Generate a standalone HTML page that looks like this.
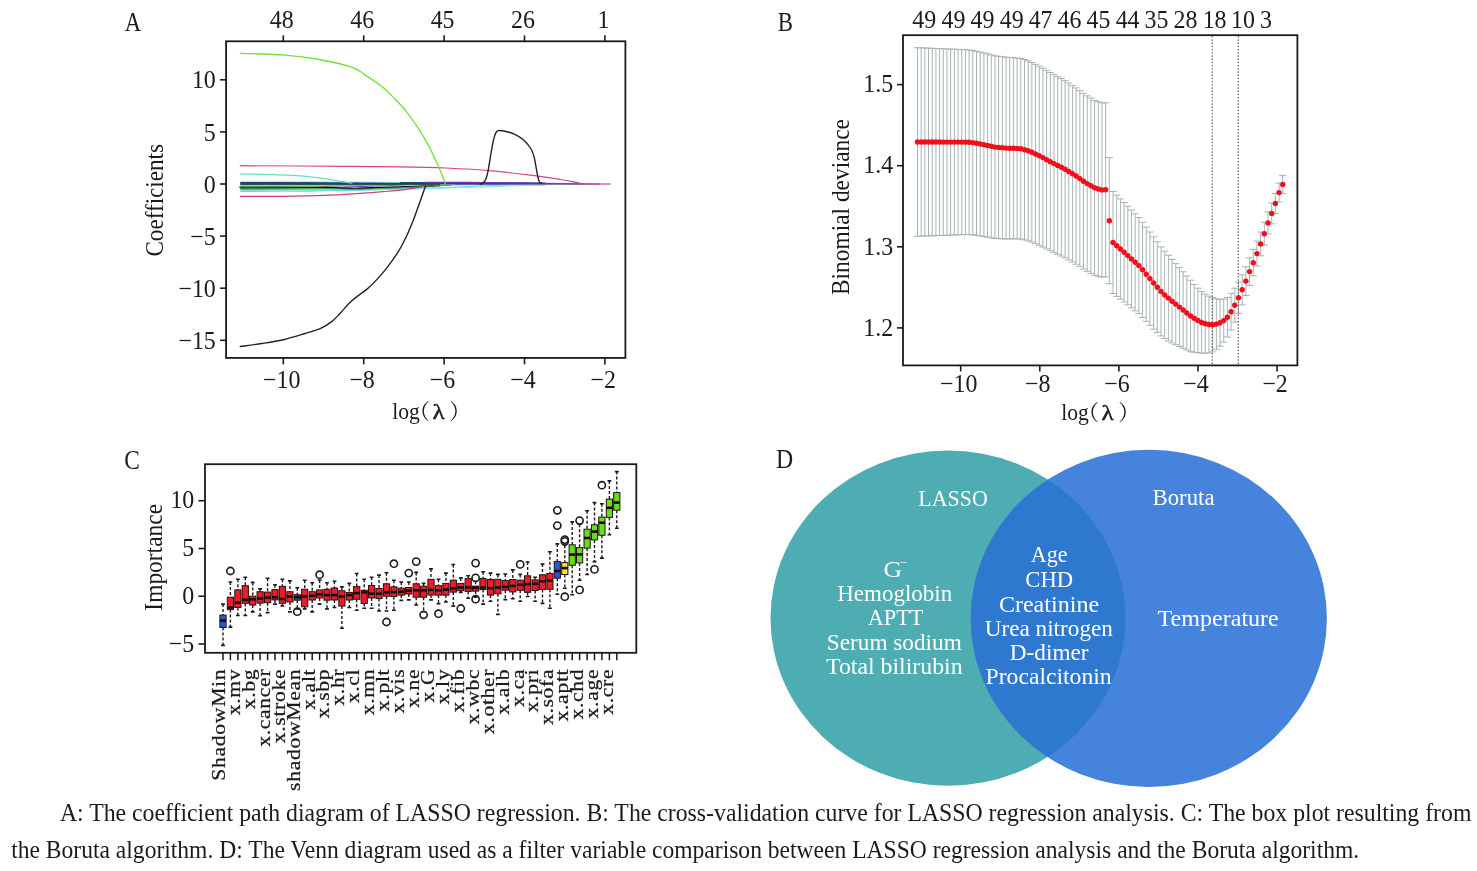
<!DOCTYPE html>
<html lang="en"><head><meta charset="utf-8"><title>Figure</title>
<style>
html,body{margin:0;padding:0;background:#fff;}
body{width:1477px;height:871px;overflow:hidden;}
svg{display:block;}
svg text{font-family:"Liberation Serif","Noto Serif CJK SC",serif;}
</style></head><body>
<svg width="1477" height="871" viewBox="0 0 1477 871">
<rect width="1477" height="871" fill="#ffffff"/>
<path d="M240.3,191.3 L257.8,191.3 L275.3,191.2 L292.7,191.1 L310.2,191.0 L327.7,190.7 L345.2,190.5 L362.7,190.1 L380.1,189.7 L397.6,189.2 L415.1,188.7 L432.6,188.1 L450.1,187.4 L467.6,186.7 L485.0,185.9 L502.5,185.0 L520.0,184.0" fill="none" stroke="#62cdea" stroke-width="1.3" stroke-linejoin="round" opacity="0.9"/>
<path d="M240.3,190.3 L260.3,190.3 L280.3,190.2 L300.2,190.1 L320.2,190.0 L340.2,189.8 L360.2,189.6 L380.2,189.3 L400.1,188.9 L420.1,188.5 L440.1,188.1 L460.1,187.5 L480.1,187.0 L500.1,186.3 L520.0,185.6 L540.0,184.8 L560.0,184.0" fill="none" stroke="#7fe8de" stroke-width="1.2" stroke-linejoin="round" opacity="0.9"/>
<path d="M240.3,189.6 L254.7,189.6 L269.0,189.5 L283.4,189.5 L297.7,189.3 L312.1,189.2 L326.4,189.0 L340.8,188.7 L355.1,188.4 L369.5,188.0 L383.9,187.6 L398.2,187.1 L412.6,186.6 L426.9,186.1 L441.3,185.4 L455.6,184.7 L470.0,184.0" fill="none" stroke="#3fb6d8" stroke-width="1.0" stroke-linejoin="round" opacity="0.9"/>
<path d="M240.3,188.8 L247.8,188.8 L255.3,188.8 L262.7,188.7 L270.2,188.6 L277.7,188.4 L285.2,188.2 L292.7,188.0 L300.1,187.8 L307.6,187.4 L315.1,187.1 L322.6,186.7 L330.1,186.3 L337.6,185.8 L345.0,185.2 L352.5,184.6 L360.0,184.0" fill="none" stroke="#a22a93" stroke-width="1.0" stroke-linejoin="round" opacity="1.0"/>
<path d="M240.3,188.3 L251.5,188.3 L262.8,188.3 L274.0,188.2 L285.2,188.1 L296.5,188.0 L307.7,187.8 L318.9,187.6 L330.1,187.4 L341.4,187.1 L352.6,186.8 L363.8,186.4 L375.1,186.0 L386.3,185.6 L397.5,185.1 L408.8,184.6 L420.0,184.0" fill="none" stroke="#6f2bb8" stroke-width="1.0" stroke-linejoin="round" opacity="1.0"/>
<path d="M240.3,187.2 C250.2,187.2 284.2,187.3 300.0,187.4 C315.8,187.5 325.8,187.7 335.0,187.9 C344.2,188.1 348.8,188.6 355.0,188.6 C361.2,188.6 364.5,188.2 372.0,188.0 C379.5,187.8 391.2,187.5 400.0,187.2 C408.8,186.9 418.3,186.6 425.0,186.3 C431.7,186.0 435.5,185.5 440.0,185.2 C444.5,184.9 450.0,184.5 452.0,184.3" fill="none" stroke="#101010" stroke-width="1.9" stroke-linejoin="round" stroke-linecap="round"/>
<path d="M240.3,186.1 L253.1,186.1 L265.9,186.1 L278.7,186.0 L291.5,186.0 L304.3,185.9 L317.1,185.9 L329.9,185.8 L342.6,185.6 L355.4,185.5 L368.2,185.4 L381.0,185.2 L393.8,185.0 L406.6,184.8 L419.4,184.5 L432.2,184.3 L445.0,184.0" fill="none" stroke="#49d23a" stroke-width="1.0" stroke-linejoin="round" opacity="1.0"/>
<path d="M240.3,188.0 C250.2,188.1 283.4,188.1 300.0,188.3 C316.6,188.5 330.0,188.8 340.0,189.0 C350.0,189.2 352.5,189.3 360.0,189.2 C367.5,189.1 375.0,188.7 385.0,188.3 C395.0,187.9 410.0,187.4 420.0,186.8 C430.0,186.2 440.8,185.1 445.0,184.8" fill="none" stroke="#3bc43b" stroke-width="0.9" stroke-linejoin="round" stroke-linecap="round"/>
<path d="M240.3,185.3 L252.2,185.3 L264.0,185.3 L275.9,185.3 L287.7,185.2 L299.6,185.2 L311.4,185.1 L323.3,185.1 L335.1,185.0 L347.0,184.9 L358.9,184.8 L370.7,184.7 L382.6,184.6 L394.4,184.5 L406.3,184.3 L418.1,184.2 L430.0,184.0" fill="none" stroke="#a9cdb0" stroke-width="0.8" stroke-linejoin="round" opacity="1.0"/>
<path d="M240.3,184.7 L255.3,184.7 L270.3,184.7 L285.2,184.7 L300.2,184.7 L315.2,184.6 L330.2,184.6 L345.2,184.6 L360.1,184.5 L375.1,184.5 L390.1,184.5 L405.1,184.4 L420.1,184.3 L435.1,184.3 L450.0,184.2 L465.0,184.1 L480.0,184.0" fill="none" stroke="#7d8f8a" stroke-width="0.8" stroke-linejoin="round" opacity="1.0"/>
<path d="M240.3,183.3 L330.0,183.3 L430.0,183.3 L500.0,183.5 L545.0,183.9" fill="none" stroke="#1c5566" stroke-width="2.6" stroke-linejoin="round" />
<path d="M240.3,182.5 L360.0,182.7 L470.0,183.0 L520.0,183.6" fill="none" stroke="#23457f" stroke-width="1.0" stroke-linejoin="round" opacity="0.9"/>
<path d="M240.3,184.2 L400.0,184.1 L520.0,184.0" fill="none" stroke="#0f3d3c" stroke-width="1.0" stroke-linejoin="round" />
<path d="M240.3,181.5 L250.3,181.5 L260.3,181.5 L270.2,181.5 L280.2,181.5 L290.2,181.6 L300.2,181.6 L310.2,181.6 L320.1,181.7 L330.1,181.8 L340.1,181.8 L350.1,181.9 L360.1,182.0 L370.1,182.1 L380.0,182.2 L390.0,182.3 L400.0,182.4" fill="none" stroke="#9be6e6" stroke-width="0.9" stroke-linejoin="round" opacity="1.0"/>
<path d="M425.0,182.6 L470.0,182.5 L520.0,183.1 L560.0,183.7 L585.0,184.0" fill="none" stroke="#7a2fc0" stroke-width="1.5" stroke-linejoin="round" opacity="0.95"/>
<path d="M440.0,185.0 L500.0,184.9 L560.0,184.3 L590.0,184.0" fill="none" stroke="#8fe3dd" stroke-width="1.0" stroke-linejoin="round" />
<path d="M455.0,184.0 L600.0,184.0" fill="none" stroke="#5b2a9a" stroke-width="1.0" stroke-linejoin="round" />
<path d="M240.3,173.8 C248.9,174.1 278.6,174.7 291.8,175.4 C305.0,176.1 310.9,176.9 319.3,177.9 C327.7,178.9 336.9,180.7 342.3,181.6 C347.8,182.5 350.4,182.9 352.0,183.2" fill="none" stroke="#63e3b5" stroke-width="1.2" stroke-linejoin="round" stroke-linecap="round"/>
<path d="M240.3,165.7 C250.2,165.8 273.4,165.8 300.0,166.0 C326.6,166.2 375.7,166.6 400.0,166.9 C424.3,167.2 430.6,167.3 445.9,168.0 C461.2,168.7 476.5,169.5 491.8,170.8 C507.1,172.2 526.2,174.7 537.7,176.1 C549.2,177.5 554.3,178.4 560.7,179.5 C567.1,180.6 572.4,181.7 576.0,182.4 C579.6,183.2 581.4,183.7 582.5,184.0" fill="none" stroke="#d8408f" stroke-width="1.2" stroke-linejoin="round" stroke-linecap="round"/>
<path d="M582.5,184.0 L610.5,184.0" fill="none" stroke="#d8408f" stroke-width="1.2" stroke-linejoin="round" />
<path d="M240.3,196.3 C247.1,196.3 264.9,196.5 281.0,196.3 C297.1,196.1 323.8,195.4 337.0,194.9 C350.2,194.4 352.3,193.8 360.0,193.3 C367.7,192.8 375.3,192.3 383.0,191.7 C390.7,191.0 399.8,190.2 406.0,189.4 C412.2,188.7 416.5,187.9 420.0,187.2 C423.5,186.5 425.8,185.7 427.0,185.4" fill="none" stroke="#cf3f86" stroke-width="1.2" stroke-linejoin="round" stroke-linecap="round"/>
<path d="M240.3,53.3 C247.7,53.6 271.7,54.1 284.9,55.1 C298.1,56.1 308.2,57.5 319.3,59.5 C330.4,61.5 343.8,64.5 351.5,67.1 C359.2,69.7 360.1,71.8 365.3,75.1 C370.5,78.4 377.5,83.0 382.5,87.0 C387.5,91.0 391.1,95.1 395.1,99.2 C399.1,103.3 402.8,107.0 406.6,111.8 C410.4,116.6 414.2,122.0 418.0,127.9 C421.8,133.8 426.1,140.9 429.5,147.4 C432.9,153.9 436.2,161.4 438.7,166.9 C441.2,172.4 443.3,177.8 444.4,180.7 C445.5,183.5 445.1,183.4 445.2,184.0" fill="none" stroke="#70e03a" stroke-width="1.3" stroke-linejoin="round" stroke-linecap="round"/>
<path d="M240.3,346.5 C243.9,346.0 254.7,344.6 261.9,343.5 C269.1,342.4 276.2,341.4 283.4,339.7 C290.6,338.0 298.7,335.4 305.0,333.5 C311.3,331.6 316.7,330.1 321.2,328.1 C325.7,326.1 328.9,323.8 332.0,321.4 C335.1,318.9 337.1,316.4 340.0,313.4 C342.9,310.4 346.4,306.1 349.2,303.3 C351.9,300.6 353.4,299.3 356.5,296.9 C359.6,294.4 363.9,291.8 367.6,288.6 C371.3,285.4 375.2,281.3 378.6,277.6 C382.0,273.9 384.7,270.6 387.8,266.6 C390.9,262.6 394.2,258.0 397.0,253.7 C399.8,249.4 401.9,245.7 404.3,240.8 C406.8,235.9 409.6,229.5 411.7,224.3 C413.8,219.1 415.5,214.2 417.2,209.6 C418.9,205.0 420.4,200.7 421.8,196.7 C423.2,192.7 425.0,187.6 425.6,185.8" fill="none" stroke="#222" stroke-width="1.4" stroke-linejoin="round" stroke-linecap="round"/>
<path d="M480.0,184.0 C480.4,183.9 481.6,184.3 482.6,183.4 C483.6,182.5 485.1,180.8 486.1,178.4 C487.1,176.0 487.4,174.2 488.4,169.2 C489.3,164.2 490.8,154.1 491.8,148.5 C492.8,142.9 493.5,138.9 494.6,135.9 C495.7,132.9 496.0,131.2 498.2,130.6 C500.4,129.9 505.1,131.4 507.9,132.0 C510.7,132.6 512.3,133.1 514.8,134.3 C517.3,135.5 520.1,136.9 522.8,139.3 C525.5,141.7 528.9,145.4 530.8,148.5 C532.7,151.6 533.1,153.1 534.3,157.7 C535.4,162.3 536.8,172.0 537.7,176.1 C538.6,180.2 538.8,180.8 539.5,182.0 C540.2,183.2 541.4,183.3 541.8,183.6" fill="none" stroke="#222" stroke-width="1.4" stroke-linejoin="round" stroke-linecap="round"/>
<rect x="226.1" y="41.3" width="399.3" height="316.6" fill="none" stroke="#1a1a1a" stroke-width="1.8"/>
<line x1="283.3" y1="357.9" x2="283.3" y2="364.4" stroke="#1a1a1a" stroke-width="1.6"/>
<line x1="283.3" y1="41.3" x2="283.3" y2="35.3" stroke="#1a1a1a" stroke-width="1.6"/>
<text transform="translate(281.7,387.8) scale(0.935,1)" font-size="25.6" text-anchor="middle" fill="#1d1a1b">−10</text>
<line x1="363.7" y1="357.9" x2="363.7" y2="364.4" stroke="#1a1a1a" stroke-width="1.6"/>
<line x1="363.7" y1="41.3" x2="363.7" y2="35.3" stroke="#1a1a1a" stroke-width="1.6"/>
<text transform="translate(362.1,387.8) scale(0.935,1)" font-size="25.6" text-anchor="middle" fill="#1d1a1b">−8</text>
<line x1="444.1" y1="357.9" x2="444.1" y2="364.4" stroke="#1a1a1a" stroke-width="1.6"/>
<line x1="444.1" y1="41.3" x2="444.1" y2="35.3" stroke="#1a1a1a" stroke-width="1.6"/>
<text transform="translate(442.5,387.8) scale(0.935,1)" font-size="25.6" text-anchor="middle" fill="#1d1a1b">−6</text>
<line x1="524.5" y1="357.9" x2="524.5" y2="364.4" stroke="#1a1a1a" stroke-width="1.6"/>
<line x1="524.5" y1="41.3" x2="524.5" y2="35.3" stroke="#1a1a1a" stroke-width="1.6"/>
<text transform="translate(522.9,387.8) scale(0.935,1)" font-size="25.6" text-anchor="middle" fill="#1d1a1b">−4</text>
<line x1="604.9" y1="357.9" x2="604.9" y2="364.4" stroke="#1a1a1a" stroke-width="1.6"/>
<line x1="604.9" y1="41.3" x2="604.9" y2="35.3" stroke="#1a1a1a" stroke-width="1.6"/>
<text transform="translate(603.3,387.8) scale(0.935,1)" font-size="25.6" text-anchor="middle" fill="#1d1a1b">−2</text>
<text transform="translate(281.8,27.6) scale(0.935,1)" font-size="25.6" text-anchor="middle" fill="#1d1a1b">48</text>
<text transform="translate(362.2,27.6) scale(0.935,1)" font-size="25.6" text-anchor="middle" fill="#1d1a1b">46</text>
<text transform="translate(442.6,27.6) scale(0.935,1)" font-size="25.6" text-anchor="middle" fill="#1d1a1b">45</text>
<text transform="translate(523.0,27.6) scale(0.935,1)" font-size="25.6" text-anchor="middle" fill="#1d1a1b">26</text>
<text transform="translate(603.4,27.6) scale(0.935,1)" font-size="25.6" text-anchor="middle" fill="#1d1a1b">1</text>
<line x1="226.1" y1="79.8" x2="220.1" y2="79.8" stroke="#1a1a1a" stroke-width="1.6"/>
<text transform="translate(215.8,88.4) scale(0.935,1)" font-size="25.6" text-anchor="end" fill="#1d1a1b">10</text>
<line x1="226.1" y1="131.9" x2="220.1" y2="131.9" stroke="#1a1a1a" stroke-width="1.6"/>
<text transform="translate(215.8,140.5) scale(0.935,1)" font-size="25.6" text-anchor="end" fill="#1d1a1b">5</text>
<line x1="226.1" y1="184.0" x2="220.1" y2="184.0" stroke="#1a1a1a" stroke-width="1.6"/>
<text transform="translate(215.8,192.6) scale(0.935,1)" font-size="25.6" text-anchor="end" fill="#1d1a1b">0</text>
<line x1="226.1" y1="236.1" x2="220.1" y2="236.1" stroke="#1a1a1a" stroke-width="1.6"/>
<text transform="translate(215.8,244.7) scale(0.935,1)" font-size="25.6" text-anchor="end" fill="#1d1a1b">−5</text>
<line x1="226.1" y1="288.2" x2="220.1" y2="288.2" stroke="#1a1a1a" stroke-width="1.6"/>
<text transform="translate(215.8,296.8) scale(0.935,1)" font-size="25.6" text-anchor="end" fill="#1d1a1b">−10</text>
<line x1="226.1" y1="340.3" x2="220.1" y2="340.3" stroke="#1a1a1a" stroke-width="1.6"/>
<text transform="translate(215.8,348.9) scale(0.935,1)" font-size="25.6" text-anchor="end" fill="#1d1a1b">−15</text>
<text transform="translate(162.8,200.3) rotate(-90)" font-size="24.3" text-anchor="middle" fill="#1d1a1b" textLength="112.6" lengthAdjust="spacingAndGlyphs">Coefficients</text>
<text x="392.3" y="418.9" font-size="23.8" fill="#1d1a1b" textLength="27.6" lengthAdjust="spacingAndGlyphs">log</text>
<text x="408.5" y="418.5" font-size="21.5" fill="#1d1a1b">（</text>
<text x="432.5" y="418.9" font-size="22" fill="#1d1a1b" stroke="#1d1a1b" stroke-width="0.45" textLength="12.2" lengthAdjust="spacingAndGlyphs">λ</text>
<text x="449.3" y="418.5" font-size="21.5" fill="#1d1a1b">）</text>
<text x="124.7" y="31.1" font-size="27.5" text-anchor="start" fill="#1d1a1b" textLength="16.4" lengthAdjust="spacingAndGlyphs">A</text>
<path d="M917.46,47.7V236.3M913.86,47.7h7.2M913.86,236.3h7.2M921.15,47.8V236.2M917.55,47.8h7.2M917.55,236.2h7.2M924.84,48.0V236.0M921.24,48.0h7.2M921.24,236.0h7.2M928.53,48.2V235.9M924.93,48.2h7.2M924.93,235.9h7.2M932.22,48.3V235.8M928.62,48.3h7.2M928.62,235.8h7.2M935.91,48.5V235.6M932.31,48.5h7.2M932.31,235.6h7.2M939.60,48.6V235.5M936.00,48.6h7.2M936.00,235.5h7.2M943.29,48.8V235.4M939.69,48.8h7.2M939.69,235.4h7.2M946.98,48.9V235.2M943.38,48.9h7.2M943.38,235.2h7.2M950.67,49.1V235.1M947.07,49.1h7.2M947.07,235.1h7.2M954.36,49.2V234.9M950.76,49.2h7.2M950.76,234.9h7.2M958.05,49.4V234.8M954.45,49.4h7.2M954.45,234.8h7.2M961.74,49.5V234.7M958.14,49.5h7.2M958.14,234.7h7.2M965.43,49.7V234.6M961.83,49.7h7.2M961.83,234.6h7.2M969.12,50.0V234.6M965.52,50.0h7.2M965.52,234.6h7.2M972.81,50.5V234.8M969.21,50.5h7.2M969.21,234.8h7.2M976.50,51.3V235.3M972.90,51.3h7.2M972.90,235.3h7.2M980.19,52.1V235.9M976.59,52.1h7.2M976.59,235.9h7.2M983.88,53.0V236.4M980.28,53.0h7.2M980.28,236.4h7.2M987.57,53.9V237.1M983.97,53.9h7.2M983.97,237.1h7.2M991.26,54.9V237.8M987.66,54.9h7.2M987.66,237.8h7.2M994.95,55.8V238.3M991.35,55.8h7.2M991.35,238.3h7.2M998.64,56.3V238.6M995.04,56.3h7.2M995.04,238.6h7.2M1002.33,56.7V238.8M998.73,56.7h7.2M998.73,238.8h7.2M1006.02,57.2V239.0M1002.42,57.2h7.2M1002.42,239.0h7.2M1009.71,57.5V238.9M1006.11,57.5h7.2M1006.11,238.9h7.2M1013.40,57.7V238.9M1009.80,57.7h7.2M1009.80,238.9h7.2M1017.09,58.0V238.9M1013.49,58.0h7.2M1013.49,238.9h7.2M1020.78,58.5V239.1M1017.18,58.5h7.2M1017.18,239.1h7.2M1024.47,59.6V239.9M1020.87,59.6h7.2M1020.87,239.9h7.2M1028.16,60.8V240.8M1024.56,60.8h7.2M1024.56,240.8h7.2M1031.85,62.5V242.2M1028.25,62.5h7.2M1028.25,242.2h7.2M1035.54,64.3V243.8M1031.94,64.3h7.2M1031.94,243.8h7.2M1039.23,66.1V245.3M1035.63,66.1h7.2M1035.63,245.3h7.2M1042.92,68.2V247.1M1039.32,68.2h7.2M1039.32,247.1h7.2M1046.61,70.4V248.9M1043.01,70.4h7.2M1043.01,248.9h7.2M1050.30,72.5V250.8M1046.70,72.5h7.2M1046.70,250.8h7.2M1053.99,74.6V252.6M1050.39,74.6h7.2M1050.39,252.6h7.2M1057.68,76.6V254.3M1054.08,76.6h7.2M1054.08,254.3h7.2M1061.37,78.5V256.0M1057.77,78.5h7.2M1057.77,256.0h7.2M1065.06,80.7V257.8M1061.46,80.7h7.2M1061.46,257.8h7.2M1068.75,83.0V259.9M1065.15,83.0h7.2M1065.15,259.9h7.2M1072.44,85.4V262.0M1068.84,85.4h7.2M1068.84,262.0h7.2M1076.13,87.9V264.2M1072.53,87.9h7.2M1072.53,264.2h7.2M1079.82,90.6V266.6M1076.22,90.6h7.2M1076.22,266.6h7.2M1083.51,93.3V269.0M1079.91,93.3h7.2M1079.91,269.0h7.2M1087.20,95.9V271.3M1083.60,95.9h7.2M1083.60,271.3h7.2M1090.89,98.1V273.3M1087.29,98.1h7.2M1087.29,273.3h7.2M1094.58,100.4V275.3M1090.98,100.4h7.2M1090.98,275.3h7.2M1098.27,101.7V276.3M1094.67,101.7h7.2M1094.67,276.3h7.2M1101.96,102.8V277.1M1098.36,102.8h7.2M1098.36,277.1h7.2M1105.65,102.8V276.8M1102.05,102.8h7.2M1102.05,276.8h7.2M1109.34,157.7V283.7M1105.74,157.7h7.2M1105.74,283.7h7.2M1113.03,191.5V293.5M1109.43,191.5h7.2M1109.43,293.5h7.2M1116.72,195.2V296.4M1113.12,195.2h7.2M1113.12,296.4h7.2M1120.41,198.9V299.2M1116.81,198.9h7.2M1116.81,299.2h7.2M1124.10,202.5V302.0M1120.50,202.5h7.2M1120.50,302.0h7.2M1127.79,206.3V304.9M1124.19,206.3h7.2M1124.19,304.9h7.2M1131.48,210.0V307.9M1127.88,210.0h7.2M1127.88,307.9h7.2M1135.17,213.8V310.8M1131.57,213.8h7.2M1131.57,310.8h7.2M1138.86,217.5V313.7M1135.26,217.5h7.2M1135.26,313.7h7.2M1142.55,222.2V317.4M1138.95,222.2h7.2M1138.95,317.4h7.2M1146.24,227.1V321.3M1142.64,227.1h7.2M1142.64,321.3h7.2M1149.93,232.0V325.2M1146.33,232.0h7.2M1146.33,325.2h7.2M1153.62,236.9V329.2M1150.02,236.9h7.2M1150.02,329.2h7.2M1157.31,241.8V332.6M1153.71,241.8h7.2M1153.71,332.6h7.2M1161.00,246.9V335.9M1157.40,246.9h7.2M1157.40,335.9h7.2M1164.69,251.2V338.5M1161.09,251.2h7.2M1161.09,338.5h7.2M1168.38,255.3V340.9M1164.78,255.3h7.2M1164.78,340.9h7.2M1172.07,259.5V342.9M1168.47,259.5h7.2M1168.47,342.9h7.2M1175.76,263.6V344.7M1172.16,263.6h7.2M1172.16,344.7h7.2M1179.45,267.7V346.5M1175.85,267.7h7.2M1175.85,346.5h7.2M1183.14,271.8V348.2M1179.54,271.8h7.2M1179.54,348.2h7.2M1186.83,276.0V350.0M1183.23,276.0h7.2M1183.23,350.0h7.2M1190.52,280.2V351.7M1186.92,280.2h7.2M1186.92,351.7h7.2M1194.21,284.4V352.3M1190.61,284.4h7.2M1190.61,352.3h7.2M1197.90,288.2V352.6M1194.30,288.2h7.2M1194.30,352.6h7.2M1201.59,291.6V353.1M1197.99,291.6h7.2M1197.99,353.1h7.2M1205.28,294.1V353.3M1201.68,294.1h7.2M1201.68,353.3h7.2M1208.97,296.1V352.9M1205.37,296.1h7.2M1205.37,352.9h7.2M1212.66,297.6V351.9M1209.06,297.6h7.2M1209.06,351.9h7.2M1216.35,298.8V349.4M1212.75,298.8h7.2M1212.75,349.4h7.2M1220.04,299.4V346.2M1216.44,299.4h7.2M1216.44,346.2h7.2M1223.73,299.1V342.1M1220.13,299.1h7.2M1220.13,342.1h7.2M1227.42,297.5V337.0M1223.82,297.5h7.2M1223.82,337.0h7.2M1231.11,293.3V330.0M1227.51,293.3h7.2M1227.51,330.0h7.2M1234.80,288.2V322.2M1231.20,288.2h7.2M1231.20,322.2h7.2M1238.49,282.1V313.5M1234.89,282.1h7.2M1234.89,313.5h7.2M1242.18,274.8V304.9M1238.58,274.8h7.2M1238.58,304.9h7.2M1245.87,266.7V295.5M1242.27,266.7h7.2M1242.27,295.5h7.2M1249.56,257.8V285.4M1245.96,257.8h7.2M1245.96,285.4h7.2M1253.25,249.5V275.8M1249.65,249.5h7.2M1249.65,275.8h7.2M1256.94,241.1V266.1M1253.34,241.1h7.2M1253.34,266.1h7.2M1260.63,232.0V255.8M1257.03,232.0h7.2M1257.03,255.8h7.2M1264.32,222.3V245.1M1260.72,222.3h7.2M1260.72,245.1h7.2M1268.01,211.9V233.8M1264.41,211.9h7.2M1264.41,233.8h7.2M1271.70,203.0V223.8M1268.10,203.0h7.2M1268.10,223.8h7.2M1275.39,193.5V213.4M1271.79,193.5h7.2M1271.79,213.4h7.2M1279.08,183.1V202.0M1275.48,183.1h7.2M1275.48,202.0h7.2M1282.77,175.4V193.4M1279.17,175.4h7.2M1279.17,193.4h7.2" fill="none" stroke="#a8b2b6" stroke-width="1.0"/>
<line x1="1212.2" y1="36.2" x2="1212.2" y2="364.4" stroke="#555" stroke-width="1.2" stroke-dasharray="1.3 1.9"/>
<line x1="1238.3" y1="36.2" x2="1238.3" y2="364.4" stroke="#555" stroke-width="1.2" stroke-dasharray="1.3 1.9"/>
<g fill="#f00f1a"><circle cx="917.46" cy="142.0" r="2.7"/><circle cx="921.15" cy="142.0" r="2.7"/><circle cx="924.84" cy="142.0" r="2.7"/><circle cx="928.53" cy="142.0" r="2.7"/><circle cx="932.22" cy="142.0" r="2.7"/><circle cx="935.91" cy="142.0" r="2.7"/><circle cx="939.60" cy="142.0" r="2.7"/><circle cx="943.29" cy="142.1" r="2.7"/><circle cx="946.98" cy="142.1" r="2.7"/><circle cx="950.67" cy="142.1" r="2.7"/><circle cx="954.36" cy="142.1" r="2.7"/><circle cx="958.05" cy="142.1" r="2.7"/><circle cx="961.74" cy="142.1" r="2.7"/><circle cx="965.43" cy="142.1" r="2.7"/><circle cx="969.12" cy="142.3" r="2.7"/><circle cx="972.81" cy="142.6" r="2.7"/><circle cx="976.50" cy="143.3" r="2.7"/><circle cx="980.19" cy="144.0" r="2.7"/><circle cx="983.88" cy="144.7" r="2.7"/><circle cx="987.57" cy="145.5" r="2.7"/><circle cx="991.26" cy="146.3" r="2.7"/><circle cx="994.95" cy="147.1" r="2.7"/><circle cx="998.64" cy="147.4" r="2.7"/><circle cx="1002.33" cy="147.8" r="2.7"/><circle cx="1006.02" cy="148.1" r="2.7"/><circle cx="1009.71" cy="148.2" r="2.7"/><circle cx="1013.40" cy="148.3" r="2.7"/><circle cx="1017.09" cy="148.4" r="2.7"/><circle cx="1020.78" cy="148.8" r="2.7"/><circle cx="1024.47" cy="149.8" r="2.7"/><circle cx="1028.16" cy="150.8" r="2.7"/><circle cx="1031.85" cy="152.3" r="2.7"/><circle cx="1035.54" cy="154.0" r="2.7"/><circle cx="1039.23" cy="155.7" r="2.7"/><circle cx="1042.92" cy="157.6" r="2.7"/><circle cx="1046.61" cy="159.7" r="2.7"/><circle cx="1050.30" cy="161.7" r="2.7"/><circle cx="1053.99" cy="163.6" r="2.7"/><circle cx="1057.68" cy="165.4" r="2.7"/><circle cx="1061.37" cy="167.2" r="2.7"/><circle cx="1065.06" cy="169.3" r="2.7"/><circle cx="1068.75" cy="171.5" r="2.7"/><circle cx="1072.44" cy="173.7" r="2.7"/><circle cx="1076.13" cy="176.0" r="2.7"/><circle cx="1079.82" cy="178.6" r="2.7"/><circle cx="1083.51" cy="181.2" r="2.7"/><circle cx="1087.20" cy="183.6" r="2.7"/><circle cx="1090.89" cy="185.7" r="2.7"/><circle cx="1094.58" cy="187.8" r="2.7"/><circle cx="1098.27" cy="189.0" r="2.7"/><circle cx="1101.96" cy="189.9" r="2.7"/><circle cx="1105.65" cy="189.8" r="2.7"/><circle cx="1109.34" cy="220.7" r="2.7"/><circle cx="1113.03" cy="242.5" r="2.7"/><circle cx="1116.72" cy="245.8" r="2.7"/><circle cx="1120.41" cy="249.0" r="2.7"/><circle cx="1124.10" cy="252.3" r="2.7"/><circle cx="1127.79" cy="255.6" r="2.7"/><circle cx="1131.48" cy="259.0" r="2.7"/><circle cx="1135.17" cy="262.3" r="2.7"/><circle cx="1138.86" cy="265.6" r="2.7"/><circle cx="1142.55" cy="269.8" r="2.7"/><circle cx="1146.24" cy="274.2" r="2.7"/><circle cx="1149.93" cy="278.6" r="2.7"/><circle cx="1153.62" cy="283.0" r="2.7"/><circle cx="1157.31" cy="287.2" r="2.7"/><circle cx="1161.00" cy="291.4" r="2.7"/><circle cx="1164.69" cy="294.9" r="2.7"/><circle cx="1168.38" cy="298.1" r="2.7"/><circle cx="1172.07" cy="301.2" r="2.7"/><circle cx="1175.76" cy="304.1" r="2.7"/><circle cx="1179.45" cy="307.1" r="2.7"/><circle cx="1183.14" cy="310.0" r="2.7"/><circle cx="1186.83" cy="313.0" r="2.7"/><circle cx="1190.52" cy="315.9" r="2.7"/><circle cx="1194.21" cy="318.3" r="2.7"/><circle cx="1197.90" cy="320.4" r="2.7"/><circle cx="1201.59" cy="322.4" r="2.7"/><circle cx="1205.28" cy="323.7" r="2.7"/><circle cx="1208.97" cy="324.5" r="2.7"/><circle cx="1212.66" cy="324.7" r="2.7"/><circle cx="1216.35" cy="324.1" r="2.7"/><circle cx="1220.04" cy="322.8" r="2.7"/><circle cx="1223.73" cy="320.6" r="2.7"/><circle cx="1227.42" cy="317.2" r="2.7"/><circle cx="1231.11" cy="311.7" r="2.7"/><circle cx="1234.80" cy="305.2" r="2.7"/><circle cx="1238.49" cy="297.8" r="2.7"/><circle cx="1242.18" cy="289.8" r="2.7"/><circle cx="1245.87" cy="281.1" r="2.7"/><circle cx="1249.56" cy="271.6" r="2.7"/><circle cx="1253.25" cy="262.7" r="2.7"/><circle cx="1256.94" cy="253.6" r="2.7"/><circle cx="1260.63" cy="243.9" r="2.7"/><circle cx="1264.32" cy="233.7" r="2.7"/><circle cx="1268.01" cy="222.9" r="2.7"/><circle cx="1271.70" cy="213.4" r="2.7"/><circle cx="1275.39" cy="203.4" r="2.7"/><circle cx="1279.08" cy="192.6" r="2.7"/><circle cx="1282.77" cy="184.4" r="2.7"/></g>
<rect x="903.0" y="35.2" width="394.4" height="330.2" fill="none" stroke="#1a1a1a" stroke-width="1.8"/>
<line x1="960.7" y1="365.4" x2="960.7" y2="371.4" stroke="#1a1a1a" stroke-width="1.6"/>
<text transform="translate(958.7,391.7) scale(0.935,1)" font-size="25.6" text-anchor="middle" fill="#1d1a1b">−10</text>
<line x1="1039.8" y1="365.4" x2="1039.8" y2="371.4" stroke="#1a1a1a" stroke-width="1.6"/>
<text transform="translate(1037.8,391.7) scale(0.935,1)" font-size="25.6" text-anchor="middle" fill="#1d1a1b">−8</text>
<line x1="1118.9" y1="365.4" x2="1118.9" y2="371.4" stroke="#1a1a1a" stroke-width="1.6"/>
<text transform="translate(1116.9,391.7) scale(0.935,1)" font-size="25.6" text-anchor="middle" fill="#1d1a1b">−6</text>
<line x1="1198.0" y1="365.4" x2="1198.0" y2="371.4" stroke="#1a1a1a" stroke-width="1.6"/>
<text transform="translate(1196.0,391.7) scale(0.935,1)" font-size="25.6" text-anchor="middle" fill="#1d1a1b">−4</text>
<line x1="1277.1" y1="365.4" x2="1277.1" y2="371.4" stroke="#1a1a1a" stroke-width="1.6"/>
<text transform="translate(1275.1,391.7) scale(0.935,1)" font-size="25.6" text-anchor="middle" fill="#1d1a1b">−2</text>
<line x1="903.0" y1="84.6" x2="897.0" y2="84.6" stroke="#1a1a1a" stroke-width="1.6"/>
<text transform="translate(893.2,92.3) scale(0.935,1)" font-size="25.6" text-anchor="end" fill="#1d1a1b">1.5</text>
<line x1="903.0" y1="165.7" x2="897.0" y2="165.7" stroke="#1a1a1a" stroke-width="1.6"/>
<text transform="translate(893.2,173.4) scale(0.935,1)" font-size="25.6" text-anchor="end" fill="#1d1a1b">1.4</text>
<line x1="903.0" y1="246.8" x2="897.0" y2="246.8" stroke="#1a1a1a" stroke-width="1.6"/>
<text transform="translate(893.2,254.5) scale(0.935,1)" font-size="25.6" text-anchor="end" fill="#1d1a1b">1.3</text>
<line x1="903.0" y1="327.9" x2="897.0" y2="327.9" stroke="#1a1a1a" stroke-width="1.6"/>
<text transform="translate(893.2,335.6) scale(0.935,1)" font-size="25.6" text-anchor="end" fill="#1d1a1b">1.2</text>
<text transform="translate(924.2,28.0) scale(0.935,1)" font-size="25.6" text-anchor="middle" fill="#1d1a1b">49</text>
<text transform="translate(953.4,28.0) scale(0.935,1)" font-size="25.6" text-anchor="middle" fill="#1d1a1b">49</text>
<text transform="translate(982.4,28.0) scale(0.935,1)" font-size="25.6" text-anchor="middle" fill="#1d1a1b">49</text>
<text transform="translate(1011.7,28.0) scale(0.935,1)" font-size="25.6" text-anchor="middle" fill="#1d1a1b">49</text>
<text transform="translate(1040.6,28.0) scale(0.935,1)" font-size="25.6" text-anchor="middle" fill="#1d1a1b">47</text>
<text transform="translate(1069.5,28.0) scale(0.935,1)" font-size="25.6" text-anchor="middle" fill="#1d1a1b">46</text>
<text transform="translate(1098.5,28.0) scale(0.935,1)" font-size="25.6" text-anchor="middle" fill="#1d1a1b">45</text>
<text transform="translate(1127.6,28.0) scale(0.935,1)" font-size="25.6" text-anchor="middle" fill="#1d1a1b">44</text>
<text transform="translate(1156.4,28.0) scale(0.935,1)" font-size="25.6" text-anchor="middle" fill="#1d1a1b">35</text>
<text transform="translate(1185.4,28.0) scale(0.935,1)" font-size="25.6" text-anchor="middle" fill="#1d1a1b">28</text>
<text transform="translate(1214.6,28.0) scale(0.935,1)" font-size="25.6" text-anchor="middle" fill="#1d1a1b">18</text>
<text transform="translate(1243.0,28.0) scale(0.935,1)" font-size="25.6" text-anchor="middle" fill="#1d1a1b">10</text>
<text transform="translate(1266.0,28.0) scale(0.935,1)" font-size="25.6" text-anchor="middle" fill="#1d1a1b">3</text>
<text transform="translate(848.9,207.0) rotate(-90)" font-size="24.3" text-anchor="middle" fill="#1d1a1b" textLength="176" lengthAdjust="spacingAndGlyphs">Binomial deviance</text>
<text x="1061.2" y="420.0" font-size="23.8" fill="#1d1a1b" textLength="27.6" lengthAdjust="spacingAndGlyphs">log</text>
<text x="1077.4" y="419.6" font-size="21.5" fill="#1d1a1b">（</text>
<text x="1101.4" y="420.0" font-size="22" fill="#1d1a1b" stroke="#1d1a1b" stroke-width="0.45" textLength="12.2" lengthAdjust="spacingAndGlyphs">λ</text>
<text x="1118.2" y="419.6" font-size="21.5" fill="#1d1a1b">）</text>
<text x="777.8" y="30.9" font-size="27.5" text-anchor="start" fill="#1d1a1b" textLength="15.2" lengthAdjust="spacingAndGlyphs">B</text>
<path d="M223.0,604.1V615.1M223.0,627.5V645.4M230.4,582.0V597.2M230.4,609.6V627.1M237.9,579.3V589.9M237.9,607.5V615.5M245.3,577.2V585.7M245.3,603.4V615.5M252.7,582.4V596.2M252.7,605.0V611.9M260.1,588.9V591.7M260.1,603.1V615.8M267.6,578.3V592.1M267.6,602.7V612.6M275.0,584.8V589.6M275.0,599.9V604.1M282.4,579.3V586.4M282.4,603.4V605.9M289.9,580.9V591.7M289.9,602.0V611.9M297.3,587.8V594.7M297.3,600.2V608.9M304.7,580.2V589.3M304.7,606.8V608.9M312.2,582.7V591.7M312.2,599.9V611.9M319.6,580.0V589.9M319.6,597.9V604.1M327.0,582.7V589.3M327.0,600.2V608.9M334.4,581.3V588.0M334.4,599.9V607.5M341.9,586.9V590.7M341.9,606.1V628.2M349.3,583.4V592.4M349.3,599.9V607.5M356.7,573.5V586.6M356.7,599.3V610.3M364.2,579.3V590.3M364.2,603.4V608.2M371.6,577.2V585.5M371.6,597.9V608.2M379.0,575.1V588.5M379.0,598.6V611.0M386.5,572.8V583.8M386.5,596.2V611.0M393.9,580.2V586.9M393.9,596.5V610.3M401.3,582.0V588.2M401.3,595.1V600.4M408.8,582.0V587.5M408.8,594.0V599.9M416.2,572.4V583.8M416.2,597.2V605.0M423.6,583.4V586.2M423.6,597.2V611.7M431.0,568.9V579.3M431.0,595.1V599.9M438.5,579.3V585.7M438.5,595.1V603.7M445.9,573.1V583.4M445.9,595.1V602.0M453.3,564.5V580.2M453.3,592.1V606.1M460.8,577.9V583.4M460.8,590.7V592.4M468.2,575.8V578.6M468.2,591.4V598.3M475.6,581.3V586.1M475.6,591.1V597.2M483.1,571.7V578.6M483.1,589.6V604.1M490.5,573.1V579.5M490.5,595.1V601.3M497.9,574.4V579.3M497.9,593.7V614.4M505.3,574.0V580.6M505.3,590.3V599.6M512.8,569.9V579.5M512.8,591.9V598.8M520.2,574.4V580.2M520.2,590.3V601.3M527.6,562.0V575.8M527.6,592.3V596.5M535.1,577.2V579.9M535.1,590.6V601.3M542.5,564.1V574.8M542.5,589.6V603.4M549.9,551.7V573.5M549.9,589.3V608.2M557.3,543.9V561.6M557.3,578.2V594.3M564.8,545.2V562.6M564.8,574.5V588.2M572.2,521.9V544.8M572.2,565.3V594.8M579.6,524.3V547.6M579.6,562.9V580.3M587.1,510.7V529.2M587.1,548.1V574.5M594.5,502.6V524.8M594.5,539.9V561.6M601.9,503.7V517.1M601.9,535.3V558.1M609.4,480.9V499.1M609.4,517.4V534.8M616.8,471.6V492.6M616.8,510.2V528.3" stroke="#1a1a1a" stroke-width="1.4" stroke-dasharray="3 2" fill="none"/>
<path d="M221.1,604.1h3.8M221.1,645.4h3.8M228.5,582.0h3.8M228.5,627.1h3.8M236.0,579.3h3.8M236.0,615.5h3.8M243.4,577.2h3.8M243.4,615.5h3.8M250.8,582.4h3.8M250.8,611.9h3.8M258.2,588.9h3.8M258.2,615.8h3.8M265.7,578.3h3.8M265.7,612.6h3.8M273.1,584.8h3.8M273.1,604.1h3.8M280.5,579.3h3.8M280.5,605.9h3.8M288.0,580.9h3.8M288.0,611.9h3.8M295.4,587.8h3.8M295.4,608.9h3.8M302.8,580.2h3.8M302.8,608.9h3.8M310.3,582.7h3.8M310.3,611.9h3.8M317.7,580.0h3.8M317.7,604.1h3.8M325.1,582.7h3.8M325.1,608.9h3.8M332.6,581.3h3.8M332.6,607.5h3.8M340.0,586.9h3.8M340.0,628.2h3.8M347.4,583.4h3.8M347.4,607.5h3.8M354.8,573.5h3.8M354.8,610.3h3.8M362.3,579.3h3.8M362.3,608.2h3.8M369.7,577.2h3.8M369.7,608.2h3.8M377.1,575.1h3.8M377.1,611.0h3.8M384.6,572.8h3.8M384.6,611.0h3.8M392.0,580.2h3.8M392.0,610.3h3.8M399.4,582.0h3.8M399.4,600.4h3.8M406.9,582.0h3.8M406.9,599.9h3.8M414.3,572.4h3.8M414.3,605.0h3.8M421.7,583.4h3.8M421.7,611.7h3.8M429.1,568.9h3.8M429.1,599.9h3.8M436.6,579.3h3.8M436.6,603.7h3.8M444.0,573.1h3.8M444.0,602.0h3.8M451.4,564.5h3.8M451.4,606.1h3.8M458.9,577.9h3.8M458.9,592.4h3.8M466.3,575.8h3.8M466.3,598.3h3.8M473.7,581.3h3.8M473.7,597.2h3.8M481.2,571.7h3.8M481.2,604.1h3.8M488.6,573.1h3.8M488.6,601.3h3.8M496.0,574.4h3.8M496.0,614.4h3.8M503.4,574.0h3.8M503.4,599.6h3.8M510.9,569.9h3.8M510.9,598.8h3.8M518.3,574.4h3.8M518.3,601.3h3.8M525.7,562.0h3.8M525.7,596.5h3.8M533.2,577.2h3.8M533.2,601.3h3.8M540.6,564.1h3.8M540.6,603.4h3.8M548.0,551.7h3.8M548.0,608.2h3.8M555.4,543.9h3.8M555.4,594.3h3.8M562.9,545.2h3.8M562.9,588.2h3.8M570.3,521.9h3.8M570.3,594.8h3.8M577.7,524.3h3.8M577.7,580.3h3.8M585.2,510.7h3.8M585.2,574.5h3.8M592.6,502.6h3.8M592.6,561.6h3.8M600.0,503.7h3.8M600.0,558.1h3.8M607.5,480.9h3.8M607.5,534.8h3.8M614.9,471.6h3.8M614.9,528.3h3.8" stroke="#1a1a1a" stroke-width="1.6" fill="none"/>
<rect x="219.9" y="615.1" width="6.2" height="12.4" fill="#2757dd" stroke="#2a0d10" stroke-width="1.0"/>
<line x1="219.9" y1="620.6" x2="226.1" y2="620.6" stroke="#1a0a0a" stroke-width="2.6"/>
<rect x="227.3" y="597.2" width="6.2" height="12.4" fill="#ee1c27" stroke="#2a0d10" stroke-width="1.0"/>
<line x1="227.3" y1="607.5" x2="233.5" y2="607.5" stroke="#1a0a0a" stroke-width="2.6"/>
<rect x="234.8" y="589.9" width="6.2" height="17.6" fill="#ee1c27" stroke="#2a0d10" stroke-width="1.0"/>
<line x1="234.8" y1="602.7" x2="241.0" y2="602.7" stroke="#1a0a0a" stroke-width="2.6"/>
<rect x="242.2" y="585.7" width="6.2" height="17.6" fill="#ee1c27" stroke="#2a0d10" stroke-width="1.0"/>
<line x1="242.2" y1="599.9" x2="248.4" y2="599.9" stroke="#1a0a0a" stroke-width="2.6"/>
<rect x="249.6" y="596.2" width="6.2" height="8.8" fill="#ee1c27" stroke="#2a0d10" stroke-width="1.0"/>
<line x1="249.6" y1="599.3" x2="255.8" y2="599.3" stroke="#1a0a0a" stroke-width="2.6"/>
<rect x="257.0" y="591.7" width="6.2" height="11.4" fill="#ee1c27" stroke="#2a0d10" stroke-width="1.0"/>
<line x1="257.0" y1="598.6" x2="263.2" y2="598.6" stroke="#1a0a0a" stroke-width="2.6"/>
<rect x="264.5" y="592.1" width="6.2" height="10.6" fill="#ee1c27" stroke="#2a0d10" stroke-width="1.0"/>
<line x1="264.5" y1="597.6" x2="270.7" y2="597.6" stroke="#1a0a0a" stroke-width="2.6"/>
<rect x="271.9" y="589.6" width="6.2" height="10.3" fill="#ee1c27" stroke="#2a0d10" stroke-width="1.0"/>
<line x1="271.9" y1="597.2" x2="278.1" y2="597.2" stroke="#1a0a0a" stroke-width="2.6"/>
<rect x="279.3" y="586.4" width="6.2" height="16.9" fill="#ee1c27" stroke="#2a0d10" stroke-width="1.0"/>
<line x1="279.3" y1="599.0" x2="285.5" y2="599.0" stroke="#1a0a0a" stroke-width="2.6"/>
<rect x="286.8" y="591.7" width="6.2" height="10.3" fill="#ee1c27" stroke="#2a0d10" stroke-width="1.0"/>
<line x1="286.8" y1="596.5" x2="293.0" y2="596.5" stroke="#1a0a0a" stroke-width="2.6"/>
<rect x="294.2" y="594.7" width="6.2" height="5.5" fill="#2757dd" stroke="#2a0d10" stroke-width="1.0"/>
<line x1="294.2" y1="597.2" x2="300.4" y2="597.2" stroke="#1a0a0a" stroke-width="2.6"/>
<rect x="301.6" y="589.3" width="6.2" height="17.5" fill="#ee1c27" stroke="#2a0d10" stroke-width="1.0"/>
<line x1="301.6" y1="596.5" x2="307.8" y2="596.5" stroke="#1a0a0a" stroke-width="2.6"/>
<rect x="309.1" y="591.7" width="6.2" height="8.3" fill="#ee1c27" stroke="#2a0d10" stroke-width="1.0"/>
<line x1="309.1" y1="595.8" x2="315.3" y2="595.8" stroke="#1a0a0a" stroke-width="2.6"/>
<rect x="316.5" y="589.9" width="6.2" height="8.0" fill="#ee1c27" stroke="#2a0d10" stroke-width="1.0"/>
<line x1="316.5" y1="594.4" x2="322.7" y2="594.4" stroke="#1a0a0a" stroke-width="2.6"/>
<rect x="323.9" y="589.3" width="6.2" height="10.9" fill="#ee1c27" stroke="#2a0d10" stroke-width="1.0"/>
<line x1="323.9" y1="595.1" x2="330.1" y2="595.1" stroke="#1a0a0a" stroke-width="2.6"/>
<rect x="331.3" y="588.0" width="6.2" height="12.0" fill="#ee1c27" stroke="#2a0d10" stroke-width="1.0"/>
<line x1="331.3" y1="595.1" x2="337.6" y2="595.1" stroke="#1a0a0a" stroke-width="2.6"/>
<rect x="338.8" y="590.7" width="6.2" height="15.4" fill="#ee1c27" stroke="#2a0d10" stroke-width="1.0"/>
<line x1="338.8" y1="596.5" x2="345.0" y2="596.5" stroke="#1a0a0a" stroke-width="2.6"/>
<rect x="346.2" y="592.4" width="6.2" height="7.6" fill="#ee1c27" stroke="#2a0d10" stroke-width="1.0"/>
<line x1="346.2" y1="595.1" x2="352.4" y2="595.1" stroke="#1a0a0a" stroke-width="2.6"/>
<rect x="353.6" y="586.6" width="6.2" height="12.7" fill="#ee1c27" stroke="#2a0d10" stroke-width="1.0"/>
<line x1="353.6" y1="593.1" x2="359.8" y2="593.1" stroke="#1a0a0a" stroke-width="2.6"/>
<rect x="361.1" y="590.3" width="6.2" height="13.1" fill="#ee1c27" stroke="#2a0d10" stroke-width="1.0"/>
<line x1="361.1" y1="592.4" x2="367.3" y2="592.4" stroke="#1a0a0a" stroke-width="2.6"/>
<rect x="368.5" y="585.5" width="6.2" height="12.4" fill="#ee1c27" stroke="#2a0d10" stroke-width="1.0"/>
<line x1="368.5" y1="593.7" x2="374.7" y2="593.7" stroke="#1a0a0a" stroke-width="2.6"/>
<rect x="375.9" y="588.5" width="6.2" height="10.1" fill="#ee1c27" stroke="#2a0d10" stroke-width="1.0"/>
<line x1="375.9" y1="593.7" x2="382.1" y2="593.7" stroke="#1a0a0a" stroke-width="2.6"/>
<rect x="383.4" y="583.8" width="6.2" height="12.4" fill="#ee1c27" stroke="#2a0d10" stroke-width="1.0"/>
<line x1="383.4" y1="592.4" x2="389.6" y2="592.4" stroke="#1a0a0a" stroke-width="2.6"/>
<rect x="390.8" y="586.9" width="6.2" height="9.6" fill="#ee1c27" stroke="#2a0d10" stroke-width="1.0"/>
<line x1="390.8" y1="592.1" x2="397.0" y2="592.1" stroke="#1a0a0a" stroke-width="2.6"/>
<rect x="398.2" y="588.2" width="6.2" height="6.9" fill="#ee1c27" stroke="#2a0d10" stroke-width="1.0"/>
<line x1="398.2" y1="591.7" x2="404.4" y2="591.7" stroke="#1a0a0a" stroke-width="2.6"/>
<rect x="405.6" y="587.5" width="6.2" height="6.5" fill="#ee1c27" stroke="#2a0d10" stroke-width="1.0"/>
<line x1="405.6" y1="590.7" x2="411.9" y2="590.7" stroke="#1a0a0a" stroke-width="2.6"/>
<rect x="413.1" y="583.8" width="6.2" height="13.4" fill="#ee1c27" stroke="#2a0d10" stroke-width="1.0"/>
<line x1="413.1" y1="590.3" x2="419.3" y2="590.3" stroke="#1a0a0a" stroke-width="2.6"/>
<rect x="420.5" y="586.2" width="6.2" height="11.0" fill="#ee1c27" stroke="#2a0d10" stroke-width="1.0"/>
<line x1="420.5" y1="590.3" x2="426.7" y2="590.3" stroke="#1a0a0a" stroke-width="2.6"/>
<rect x="427.9" y="579.3" width="6.2" height="15.8" fill="#ee1c27" stroke="#2a0d10" stroke-width="1.0"/>
<line x1="427.9" y1="589.9" x2="434.1" y2="589.9" stroke="#1a0a0a" stroke-width="2.6"/>
<rect x="435.4" y="585.7" width="6.2" height="9.4" fill="#ee1c27" stroke="#2a0d10" stroke-width="1.0"/>
<line x1="435.4" y1="590.3" x2="441.6" y2="590.3" stroke="#1a0a0a" stroke-width="2.6"/>
<rect x="442.8" y="583.4" width="6.2" height="11.7" fill="#ee1c27" stroke="#2a0d10" stroke-width="1.0"/>
<line x1="442.8" y1="589.6" x2="449.0" y2="589.6" stroke="#1a0a0a" stroke-width="2.6"/>
<rect x="450.2" y="580.2" width="6.2" height="11.9" fill="#ee1c27" stroke="#2a0d10" stroke-width="1.0"/>
<line x1="450.2" y1="588.5" x2="456.4" y2="588.5" stroke="#1a0a0a" stroke-width="2.6"/>
<rect x="457.7" y="583.4" width="6.2" height="7.3" fill="#ee1c27" stroke="#2a0d10" stroke-width="1.0"/>
<line x1="457.7" y1="587.5" x2="463.9" y2="587.5" stroke="#1a0a0a" stroke-width="2.6"/>
<rect x="465.1" y="578.6" width="6.2" height="12.8" fill="#ee1c27" stroke="#2a0d10" stroke-width="1.0"/>
<line x1="465.1" y1="587.5" x2="471.3" y2="587.5" stroke="#1a0a0a" stroke-width="2.6"/>
<rect x="472.5" y="586.1" width="6.2" height="5.0" fill="#ee1c27" stroke="#2a0d10" stroke-width="1.0"/>
<line x1="472.5" y1="587.8" x2="478.7" y2="587.8" stroke="#1a0a0a" stroke-width="2.6"/>
<rect x="479.9" y="578.6" width="6.2" height="11.0" fill="#ee1c27" stroke="#2a0d10" stroke-width="1.0"/>
<line x1="479.9" y1="587.5" x2="486.2" y2="587.5" stroke="#1a0a0a" stroke-width="2.6"/>
<rect x="487.4" y="579.5" width="6.2" height="15.6" fill="#ee1c27" stroke="#2a0d10" stroke-width="1.0"/>
<line x1="487.4" y1="588.2" x2="493.6" y2="588.2" stroke="#1a0a0a" stroke-width="2.6"/>
<rect x="494.8" y="579.3" width="6.2" height="14.5" fill="#ee1c27" stroke="#2a0d10" stroke-width="1.0"/>
<line x1="494.8" y1="587.5" x2="501.0" y2="587.5" stroke="#1a0a0a" stroke-width="2.6"/>
<rect x="502.2" y="580.6" width="6.2" height="9.6" fill="#ee1c27" stroke="#2a0d10" stroke-width="1.0"/>
<line x1="502.2" y1="586.8" x2="508.4" y2="586.8" stroke="#1a0a0a" stroke-width="2.6"/>
<rect x="509.7" y="579.5" width="6.2" height="12.4" fill="#ee1c27" stroke="#2a0d10" stroke-width="1.0"/>
<line x1="509.7" y1="585.9" x2="515.9" y2="585.9" stroke="#1a0a0a" stroke-width="2.6"/>
<rect x="517.1" y="580.2" width="6.2" height="10.1" fill="#ee1c27" stroke="#2a0d10" stroke-width="1.0"/>
<line x1="517.1" y1="584.8" x2="523.3" y2="584.8" stroke="#1a0a0a" stroke-width="2.6"/>
<rect x="524.5" y="575.8" width="6.2" height="16.5" fill="#ee1c27" stroke="#2a0d10" stroke-width="1.0"/>
<line x1="524.5" y1="584.1" x2="530.7" y2="584.1" stroke="#1a0a0a" stroke-width="2.6"/>
<rect x="532.0" y="579.9" width="6.2" height="10.6" fill="#ee1c27" stroke="#2a0d10" stroke-width="1.0"/>
<line x1="532.0" y1="583.7" x2="538.2" y2="583.7" stroke="#1a0a0a" stroke-width="2.6"/>
<rect x="539.4" y="574.8" width="6.2" height="14.7" fill="#ee1c27" stroke="#2a0d10" stroke-width="1.0"/>
<line x1="539.4" y1="581.3" x2="545.6" y2="581.3" stroke="#1a0a0a" stroke-width="2.6"/>
<rect x="546.8" y="573.5" width="6.2" height="15.8" fill="#ee1c27" stroke="#2a0d10" stroke-width="1.0"/>
<line x1="546.8" y1="580.6" x2="553.0" y2="580.6" stroke="#1a0a0a" stroke-width="2.6"/>
<rect x="554.2" y="561.6" width="6.2" height="16.6" fill="#2757dd" stroke="#2a0d10" stroke-width="1.0"/>
<line x1="554.2" y1="571.0" x2="560.4" y2="571.0" stroke="#1a0a0a" stroke-width="2.6"/>
<rect x="561.7" y="562.6" width="6.2" height="11.9" fill="#f2e736" stroke="#2a0d10" stroke-width="1.0"/>
<line x1="561.7" y1="568.1" x2="567.9" y2="568.1" stroke="#1a0a0a" stroke-width="2.6"/>
<rect x="569.1" y="544.8" width="6.2" height="20.5" fill="#62e01f" stroke="#2a0d10" stroke-width="1.0"/>
<line x1="569.1" y1="554.6" x2="575.3" y2="554.6" stroke="#1a0a0a" stroke-width="2.6"/>
<rect x="576.5" y="547.6" width="6.2" height="15.3" fill="#62e01f" stroke="#2a0d10" stroke-width="1.0"/>
<line x1="576.5" y1="554.4" x2="582.7" y2="554.4" stroke="#1a0a0a" stroke-width="2.6"/>
<rect x="584.0" y="529.2" width="6.2" height="18.9" fill="#62e01f" stroke="#2a0d10" stroke-width="1.0"/>
<line x1="584.0" y1="538.0" x2="590.2" y2="538.0" stroke="#1a0a0a" stroke-width="2.6"/>
<rect x="591.4" y="524.8" width="6.2" height="15.1" fill="#62e01f" stroke="#2a0d10" stroke-width="1.0"/>
<line x1="591.4" y1="531.6" x2="597.6" y2="531.6" stroke="#1a0a0a" stroke-width="2.6"/>
<rect x="598.8" y="517.1" width="6.2" height="18.2" fill="#62e01f" stroke="#2a0d10" stroke-width="1.0"/>
<line x1="598.8" y1="522.7" x2="605.0" y2="522.7" stroke="#1a0a0a" stroke-width="2.6"/>
<rect x="606.3" y="499.1" width="6.2" height="18.3" fill="#62e01f" stroke="#2a0d10" stroke-width="1.0"/>
<line x1="606.3" y1="507.8" x2="612.5" y2="507.8" stroke="#1a0a0a" stroke-width="2.6"/>
<rect x="613.7" y="492.6" width="6.2" height="17.6" fill="#62e01f" stroke="#2a0d10" stroke-width="1.0"/>
<line x1="613.7" y1="502.6" x2="619.9" y2="502.6" stroke="#1a0a0a" stroke-width="2.6"/>
<g fill="none" stroke="#1a1a1a" stroke-width="1.6"><circle cx="230.4" cy="571.0" r="3.6"/><circle cx="297.3" cy="611.7" r="3.6"/><circle cx="319.6" cy="574.7" r="3.6"/><circle cx="386.5" cy="622.0" r="3.6"/><circle cx="393.9" cy="563.7" r="3.6"/><circle cx="408.8" cy="573.1" r="3.6"/><circle cx="416.2" cy="561.6" r="3.6"/><circle cx="423.6" cy="614.8" r="3.6"/><circle cx="438.5" cy="613.7" r="3.6"/><circle cx="460.8" cy="608.5" r="3.6"/><circle cx="475.6" cy="563.1" r="3.6"/><circle cx="475.6" cy="577.9" r="3.6"/><circle cx="475.6" cy="599.2" r="3.6"/><circle cx="520.2" cy="564.4" r="3.6"/><circle cx="557.3" cy="510.3" r="3.6"/><circle cx="557.3" cy="525.6" r="3.6"/><circle cx="564.8" cy="539.6" r="3.6"/><circle cx="564.8" cy="541.4" r="3.6"/><circle cx="564.8" cy="596.7" r="3.6"/><circle cx="579.6" cy="520.6" r="3.6"/><circle cx="579.6" cy="589.9" r="3.6"/><circle cx="594.5" cy="569.4" r="3.6"/><circle cx="601.9" cy="485.2" r="3.6"/></g>
<rect x="205.0" y="464.2" width="431.3" height="188.6" fill="none" stroke="#1a1a1a" stroke-width="1.8"/>
<path d="M223.0,652.8v7.5M230.4,652.8v7.5M237.9,652.8v7.5M245.3,652.8v7.5M252.7,652.8v7.5M260.1,652.8v7.5M267.6,652.8v7.5M275.0,652.8v7.5M282.4,652.8v7.5M289.9,652.8v7.5M297.3,652.8v7.5M304.7,652.8v7.5M312.2,652.8v7.5M319.6,652.8v7.5M327.0,652.8v7.5M334.4,652.8v7.5M341.9,652.8v7.5M349.3,652.8v7.5M356.7,652.8v7.5M364.2,652.8v7.5M371.6,652.8v7.5M379.0,652.8v7.5M386.5,652.8v7.5M393.9,652.8v7.5M401.3,652.8v7.5M408.8,652.8v7.5M416.2,652.8v7.5M423.6,652.8v7.5M431.0,652.8v7.5M438.5,652.8v7.5M445.9,652.8v7.5M453.3,652.8v7.5M460.8,652.8v7.5M468.2,652.8v7.5M475.6,652.8v7.5M483.1,652.8v7.5M490.5,652.8v7.5M497.9,652.8v7.5M505.3,652.8v7.5M512.8,652.8v7.5M520.2,652.8v7.5M527.6,652.8v7.5M535.1,652.8v7.5M542.5,652.8v7.5M549.9,652.8v7.5M557.3,652.8v7.5M564.8,652.8v7.5M572.2,652.8v7.5M579.6,652.8v7.5M587.1,652.8v7.5M594.5,652.8v7.5M601.9,652.8v7.5M609.4,652.8v7.5M616.8,652.8v7.5" stroke="#1a1a1a" stroke-width="1.5" fill="none"/>
<line x1="205.0" y1="500.7" x2="198.5" y2="500.7" stroke="#1a1a1a" stroke-width="1.6"/>
<text transform="translate(194.3,508.3) scale(0.935,1)" font-size="25.6" text-anchor="end" fill="#1d1a1b">10</text>
<line x1="205.0" y1="548.5" x2="198.5" y2="548.5" stroke="#1a1a1a" stroke-width="1.6"/>
<text transform="translate(194.3,556.1) scale(0.935,1)" font-size="25.6" text-anchor="end" fill="#1d1a1b">5</text>
<line x1="205.0" y1="596.2" x2="198.5" y2="596.2" stroke="#1a1a1a" stroke-width="1.6"/>
<text transform="translate(194.3,603.8) scale(0.935,1)" font-size="25.6" text-anchor="end" fill="#1d1a1b">0</text>
<line x1="205.0" y1="644.0" x2="198.5" y2="644.0" stroke="#1a1a1a" stroke-width="1.6"/>
<text transform="translate(194.3,651.6) scale(0.935,1)" font-size="25.6" text-anchor="end" fill="#1d1a1b">−5</text>
<text transform="translate(224.9,668.7) rotate(-90) scale(1.14,1)" font-size="19" text-anchor="end" fill="#1d1a1b" stroke="#1d1a1b" stroke-width="0.25" letter-spacing="0.6">ShadowMin</text>
<text transform="translate(239.8,668.7) rotate(-90) scale(1.14,1)" font-size="19" text-anchor="end" fill="#1d1a1b" stroke="#1d1a1b" stroke-width="0.25" letter-spacing="0.6">x.mv</text>
<text transform="translate(254.8,668.7) rotate(-90) scale(1.14,1)" font-size="19" text-anchor="end" fill="#1d1a1b" stroke="#1d1a1b" stroke-width="0.25" letter-spacing="0.6">x.bg</text>
<text transform="translate(269.7,668.7) rotate(-90) scale(1.14,1)" font-size="19" text-anchor="end" fill="#1d1a1b" stroke="#1d1a1b" stroke-width="0.25" letter-spacing="0.6">x.cancer</text>
<text transform="translate(284.6,668.7) rotate(-90) scale(1.14,1)" font-size="19" text-anchor="end" fill="#1d1a1b" stroke="#1d1a1b" stroke-width="0.25" letter-spacing="0.6">x.stroke</text>
<text transform="translate(299.6,668.7) rotate(-90) scale(1.14,1)" font-size="19" text-anchor="end" fill="#1d1a1b" stroke="#1d1a1b" stroke-width="0.25" letter-spacing="0.6">shadowMean</text>
<text transform="translate(314.5,668.7) rotate(-90) scale(1.14,1)" font-size="19" text-anchor="end" fill="#1d1a1b" stroke="#1d1a1b" stroke-width="0.25" letter-spacing="0.6">x.alt</text>
<text transform="translate(329.4,668.7) rotate(-90) scale(1.14,1)" font-size="19" text-anchor="end" fill="#1d1a1b" stroke="#1d1a1b" stroke-width="0.25" letter-spacing="0.6">x.sbp</text>
<text transform="translate(344.3,668.7) rotate(-90) scale(1.14,1)" font-size="19" text-anchor="end" fill="#1d1a1b" stroke="#1d1a1b" stroke-width="0.25" letter-spacing="0.6">x.hr</text>
<text transform="translate(359.3,668.7) rotate(-90) scale(1.14,1)" font-size="19" text-anchor="end" fill="#1d1a1b" stroke="#1d1a1b" stroke-width="0.25" letter-spacing="0.6">x.cl</text>
<text transform="translate(374.2,668.7) rotate(-90) scale(1.14,1)" font-size="19" text-anchor="end" fill="#1d1a1b" stroke="#1d1a1b" stroke-width="0.25" letter-spacing="0.6">x.mn</text>
<text transform="translate(389.1,668.7) rotate(-90) scale(1.14,1)" font-size="19" text-anchor="end" fill="#1d1a1b" stroke="#1d1a1b" stroke-width="0.25" letter-spacing="0.6">x.plt</text>
<text transform="translate(404.1,668.7) rotate(-90) scale(1.14,1)" font-size="19" text-anchor="end" fill="#1d1a1b" stroke="#1d1a1b" stroke-width="0.25" letter-spacing="0.6">x.vis</text>
<text transform="translate(419.0,668.7) rotate(-90) scale(1.14,1)" font-size="19" text-anchor="end" fill="#1d1a1b" stroke="#1d1a1b" stroke-width="0.25" letter-spacing="0.6">x.ne</text>
<text transform="translate(433.9,668.7) rotate(-90) scale(1.14,1)" font-size="19" text-anchor="end" fill="#1d1a1b" stroke="#1d1a1b" stroke-width="0.25" letter-spacing="0.6">x.G</text>
<text transform="translate(448.9,668.7) rotate(-90) scale(1.14,1)" font-size="19" text-anchor="end" fill="#1d1a1b" stroke="#1d1a1b" stroke-width="0.25" letter-spacing="0.6">x.ly</text>
<text transform="translate(463.8,668.7) rotate(-90) scale(1.14,1)" font-size="19" text-anchor="end" fill="#1d1a1b" stroke="#1d1a1b" stroke-width="0.25" letter-spacing="0.6">x.fib</text>
<text transform="translate(478.7,668.7) rotate(-90) scale(1.14,1)" font-size="19" text-anchor="end" fill="#1d1a1b" stroke="#1d1a1b" stroke-width="0.25" letter-spacing="0.6">x.wbc</text>
<text transform="translate(493.6,668.7) rotate(-90) scale(1.14,1)" font-size="19" text-anchor="end" fill="#1d1a1b" stroke="#1d1a1b" stroke-width="0.25" letter-spacing="0.6">x.other</text>
<text transform="translate(508.6,668.7) rotate(-90) scale(1.14,1)" font-size="19" text-anchor="end" fill="#1d1a1b" stroke="#1d1a1b" stroke-width="0.25" letter-spacing="0.6">x.alb</text>
<text transform="translate(523.5,668.7) rotate(-90) scale(1.14,1)" font-size="19" text-anchor="end" fill="#1d1a1b" stroke="#1d1a1b" stroke-width="0.25" letter-spacing="0.6">x.ca</text>
<text transform="translate(538.4,668.7) rotate(-90) scale(1.14,1)" font-size="19" text-anchor="end" fill="#1d1a1b" stroke="#1d1a1b" stroke-width="0.25" letter-spacing="0.6">x.pri</text>
<text transform="translate(553.4,668.7) rotate(-90) scale(1.14,1)" font-size="19" text-anchor="end" fill="#1d1a1b" stroke="#1d1a1b" stroke-width="0.25" letter-spacing="0.6">x.sofa</text>
<text transform="translate(568.3,668.7) rotate(-90) scale(1.14,1)" font-size="19" text-anchor="end" fill="#1d1a1b" stroke="#1d1a1b" stroke-width="0.25" letter-spacing="0.6">x.aptt</text>
<text transform="translate(583.2,668.7) rotate(-90) scale(1.14,1)" font-size="19" text-anchor="end" fill="#1d1a1b" stroke="#1d1a1b" stroke-width="0.25" letter-spacing="0.6">x.chd</text>
<text transform="translate(598.1,668.7) rotate(-90) scale(1.14,1)" font-size="19" text-anchor="end" fill="#1d1a1b" stroke="#1d1a1b" stroke-width="0.25" letter-spacing="0.6">x.age</text>
<text transform="translate(613.1,668.7) rotate(-90) scale(1.14,1)" font-size="19" text-anchor="end" fill="#1d1a1b" stroke="#1d1a1b" stroke-width="0.25" letter-spacing="0.6">x.cre</text>
<text transform="translate(161.7,557.3) rotate(-90)" font-size="24.3" text-anchor="middle" fill="#1d1a1b" textLength="106.7" lengthAdjust="spacingAndGlyphs">Importance</text>
<text x="124.3" y="468.9" font-size="27.5" text-anchor="start" fill="#1d1a1b" textLength="15.6" lengthAdjust="spacingAndGlyphs">C</text>
<ellipse cx="948.0" cy="618.15" rx="177.5" ry="167.65" fill="#4dadb3"/>
<ellipse cx="1148.8" cy="618.4" rx="178.1" ry="168.6" fill="#4583dc"/>
<clipPath id="cl"><ellipse cx="948.0" cy="618.15" rx="177.5" ry="167.65"/></clipPath>
<ellipse cx="1148.8" cy="618.4" rx="178.1" ry="168.6" fill="#2f78d0" clip-path="url(#cl)"/>
<text x="953.1" y="506.0" font-size="22.7" text-anchor="middle" fill="#ffffff" textLength="69.5" lengthAdjust="spacingAndGlyphs">LASSO</text>
<text x="1183.5" y="504.5" font-size="22.7" text-anchor="middle" fill="#ffffff" textLength="62" lengthAdjust="spacingAndGlyphs">Boruta</text>
<text x="883.6" y="577.0" font-size="22.7" fill="#ffffff" textLength="18.5" lengthAdjust="spacingAndGlyphs">G</text>
<text x="899.4" y="567.2" font-size="13" fill="#ffffff">−</text>
<text x="894.7" y="600.7" font-size="22.7" text-anchor="middle" fill="#ffffff" textLength="115" lengthAdjust="spacingAndGlyphs">Hemoglobin</text>
<text x="895.6" y="625.0" font-size="22.7" text-anchor="middle" fill="#ffffff" textLength="55.8" lengthAdjust="spacingAndGlyphs">APTT</text>
<text x="894.3" y="649.9" font-size="22.7" text-anchor="middle" fill="#ffffff" textLength="135" lengthAdjust="spacingAndGlyphs">Serum sodium</text>
<text x="894.3" y="673.6" font-size="22.7" text-anchor="middle" fill="#ffffff" textLength="136.6" lengthAdjust="spacingAndGlyphs">Total bilirubin</text>
<text x="1049.2" y="562.3" font-size="22.7" text-anchor="middle" fill="#ffffff" textLength="36.8" lengthAdjust="spacingAndGlyphs">Age</text>
<text x="1049.2" y="586.8" font-size="22.7" text-anchor="middle" fill="#ffffff" textLength="47.8" lengthAdjust="spacingAndGlyphs">CHD</text>
<text x="1049.0" y="611.5" font-size="22.7" text-anchor="middle" fill="#ffffff" textLength="100.2" lengthAdjust="spacingAndGlyphs">Creatinine</text>
<text x="1048.8" y="635.6" font-size="22.7" text-anchor="middle" fill="#ffffff" textLength="128.3" lengthAdjust="spacingAndGlyphs">Urea nitrogen</text>
<text x="1049.2" y="659.6" font-size="22.7" text-anchor="middle" fill="#ffffff" textLength="78.8" lengthAdjust="spacingAndGlyphs">D-dimer</text>
<text x="1048.6" y="683.5" font-size="22.7" text-anchor="middle" fill="#ffffff" textLength="126.2" lengthAdjust="spacingAndGlyphs">Procalcitonin</text>
<text x="1218.2" y="626.3" font-size="22.7" text-anchor="middle" fill="#ffffff" textLength="121.2" lengthAdjust="spacingAndGlyphs">Temperature</text>
<text x="776.1" y="468.4" font-size="27.5" text-anchor="start" fill="#1d1a1b" textLength="17.2" lengthAdjust="spacingAndGlyphs">D</text>
<text x="59.9" y="821" font-size="25" fill="#1d1a1b" textLength="1411.5" lengthAdjust="spacingAndGlyphs" xml:space="preserve">A: The coefficient path diagram of LASSO regression. B: The cross-validation curve for LASSO regression analysis. C: The box plot resulting from</text>
<text x="11.2" y="857.5" font-size="25" fill="#1d1a1b" textLength="1348" lengthAdjust="spacingAndGlyphs" xml:space="preserve">the Boruta algorithm. D: The Venn diagram used as a filter variable comparison between LASSO regression analysis and the Boruta algorithm.</text>
</svg>
</body></html>
